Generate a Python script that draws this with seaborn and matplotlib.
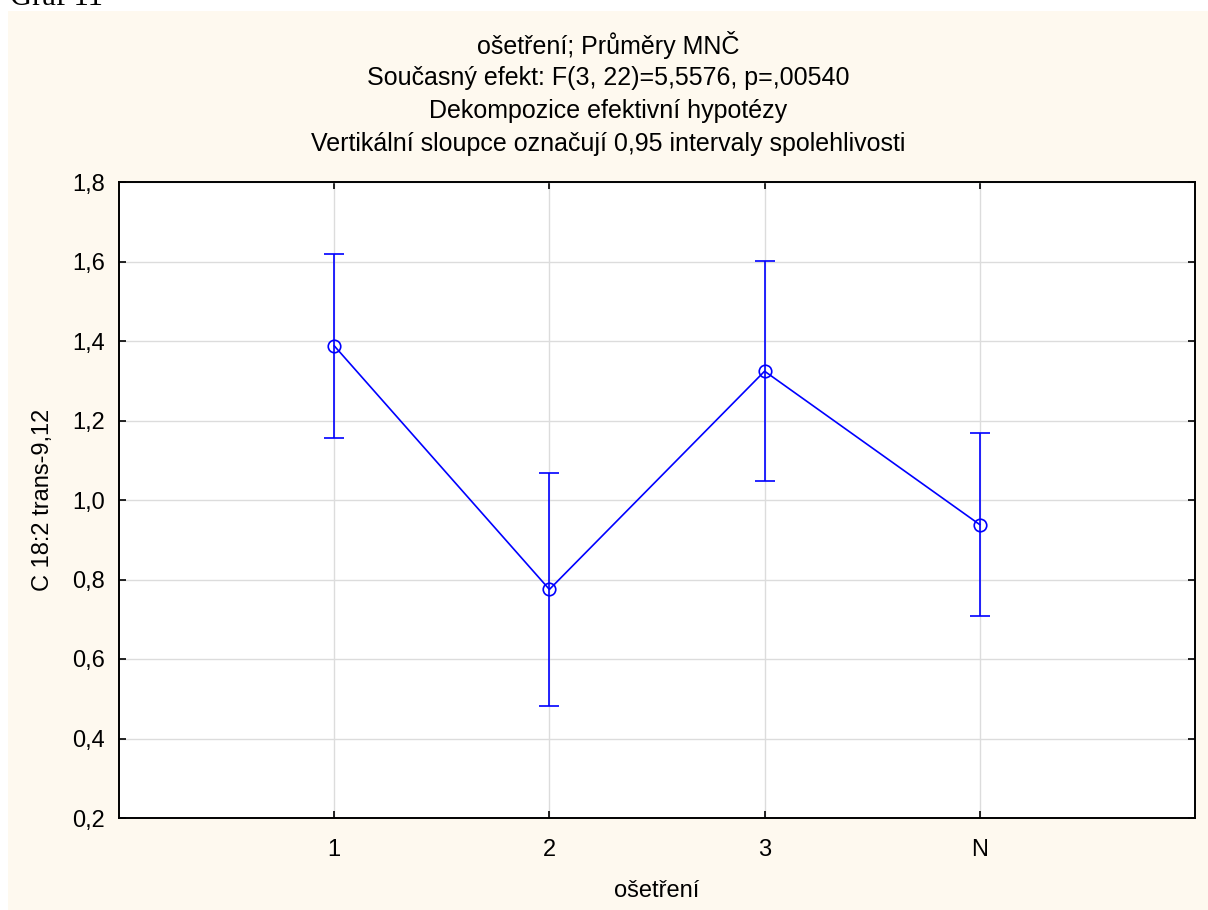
import seaborn as sns
import matplotlib.pyplot as plt
import pandas as pd

# group means and 0.95 confidence limits
groups = ["1", "2", "3", "N"]
means = [1.388, 0.775, 1.324, 0.938]
ci_low = [1.155, 0.482, 1.047, 0.709]
ci_high = [1.620, 1.069, 1.601, 1.168]

yticks = [0.2, 0.4, 0.6, 0.8, 1.0, 1.2, 1.4, 1.6, 1.8]
ytick_labels = ["0,2", "0,4", "0,6", "0,8", "1,0", "1,2", "1,4", "1,6", "1,8"]

title_lines = [
    "ošetření; Průměry MNČ",
    "Současný efekt: F(3, 22)=5,5576, p=,00540",
    "Dekompozice efektivní hypotézy",
    "Vertikální sloupce označují 0,95 intervaly spolehlivosti",
]

df = pd.DataFrame({"ošetření": groups, "mean": means,
                   "low": ci_low, "high": ci_high})

sns.set_theme(style="white")
plt.rcParams["font.family"] = ["Liberation Sans", "DejaVu Sans"]

fig = plt.figure(figsize=(12.08, 9.10), dpi=100)
fig.patch.set_facecolor("white")

# cream panel behind the chart
panel = plt.Rectangle((8 / 1208, 0), 1 - 8 / 1208, 1 - 11 / 910,
                      transform=fig.transFigure, facecolor="#fef9ef",
                      edgecolor="none", zorder=-10)
fig.patches.append(panel)

# caption above the panel, its top cut off by the page edge as in the source
fig.text(10 / 1208, 1 - 5 / 910, "Graf 11", family=["Liberation Serif"],
         fontsize=22, ha="left", va="baseline", color="black")

ax = fig.add_axes([119 / 1208, 1 - 818 / 910, (1195 - 119) / 1208, (818 - 182) / 910])
ax.set_facecolor("white")

x = list(range(len(groups)))
ax.errorbar(x, df["mean"],
            yerr=[df["mean"] - df["low"], df["high"] - df["mean"]],
            fmt="none", ecolor="#0000ff", elinewidth=1.2, capsize=7.5,
            capthick=1.2, zorder=3)
sns.lineplot(x=x, y=df["mean"], ax=ax, color="#0000ff", linewidth=1.2,
             marker="o", markersize=9, markerfacecolor="none",
             markeredgecolor="#0000ff", markeredgewidth=1.2, zorder=4)

ax.set_xlim(-1, len(groups))
ax.set_ylim(0.2, 1.8)
ax.set_xticks(x)
ax.set_xticklabels(groups)
ax.set_yticks(yticks)
ax.set_yticklabels(ytick_labels)

ax.grid(True, color="#dcdcdc", linewidth=1)
ax.set_axisbelow(True)
for s in ax.spines.values():
    s.set_visible(True)
    s.set_color("black")
    s.set_linewidth(1.4)

ax.tick_params(axis="both", direction="in", length=5, width=1.2,
               colors="black", labelsize=17, top=True, right=True,
               bottom=True, left=True, labeltop=False, labelright=False)
ax.tick_params(axis="x", pad=15)
ax.tick_params(axis="y", pad=10)

ax.set_xlabel("ošetření", fontsize=17, labelpad=14, color="black")
ax.set_ylabel("C 18:2 trans-9,12", fontsize=17, labelpad=13, color="black")

for i, line in enumerate(title_lines):
    fig.text(608 / 1208, 1 - (45 + 33 * i) / 910, line, ha="center",
             va="center", fontsize=18, color="black")

fig.savefig("out.png", dpi=100, facecolor=fig.get_facecolor())
